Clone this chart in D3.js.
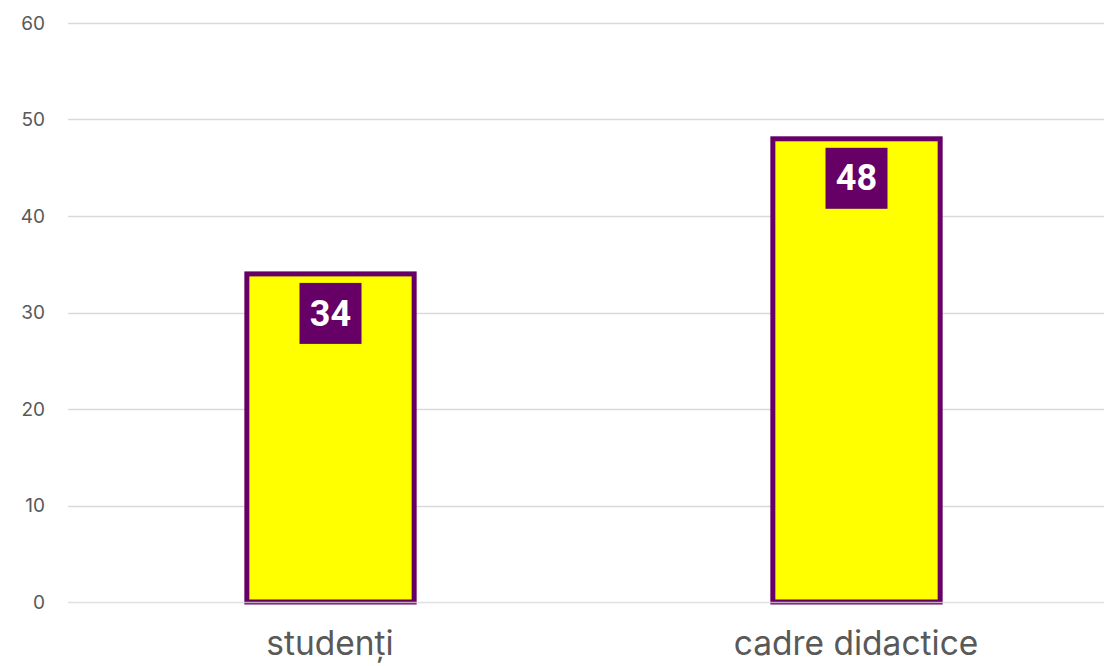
<!DOCTYPE html>
<html>
<head>
<meta charset="utf-8">
<script src="https://cdn.jsdelivr.net/npm/d3@7"></script>
<style>
  html, body { margin: 0; padding: 0; background: #fff; }
  svg { display: block; }
  .tick-label { font-family: Inter, "Open Sans", sans-serif; font-size: 19px; fill: #595959; }
  .cat-label { font-family: Inter, "Open Sans", sans-serif; font-size: 33.5px; fill: #595959; }
  .val-label { font-family: Roboto, Inter, sans-serif; font-size: 36px; font-weight: bold; fill: #fff; }
</style>
</head>
<body>
<div id="chart"></div>
<script>
// ---- Data ----
const categories = ["studenți", "cadre didactice"];
const values = [34, 48];
const yTicks = [0, 10, 20, 30, 40, 50, 60];

const W = 1104, H = 666;
const PURPLE = "#660066";

const svg = d3.select("#chart").append("svg")
  .attr("width", W).attr("height", H);

// ---- Scales ----
const y = d3.scaleLinear().domain([0, 60]).range([602, 23]);
const x = d3.scaleBand()
  .domain(categories)
  .range([67, 1119])
  .paddingInner(0.68)
  .paddingOuter(0.34);

// ---- Gridlines ----
svg.append("g")
  .selectAll("line")
  .data(yTicks.filter(t => t !== 0))
  .join("line")
  .attr("x1", 68).attr("x2", W)
  .attr("y1", d => Math.round(y(d)) + 0.5).attr("y2", d => Math.round(y(d)) + 0.5)
  .attr("stroke", "#d9d9d9").attr("stroke-width", 1.3);

svg.append("g")
  .selectAll("text")
  .data(yTicks)
  .join("text")
  .attr("class", "tick-label")
  .attr("x", 45).attr("y", d => y(d))
  .attr("dy", "0.35em")
  .attr("text-anchor", "end")
  .text(d => d);

// ---- Bars ----
const bw = x.bandwidth();
svg.append("g")
  .selectAll("rect")
  .data(values)
  .join("rect")
  .attr("x", (d, i) => x(categories[i]) + 1)
  .attr("y", d => y(d))
  .attr("width", bw - 1)
  .attr("height", d => y(0) - y(d))
  .attr("fill", "#ffff00")
  .attr("stroke", PURPLE)
  .attr("stroke-width", 5);

// baseline drawn over the bar bottoms
svg.append("line")
  .attr("x1", 68).attr("x2", W)
  .attr("y1", y(0) + 0.5).attr("y2", y(0) + 0.5)
  .attr("stroke", "#d9d9d9").attr("stroke-width", 1.3)
  .attr("opacity", 0.8);

// ---- Value labels ----
const lbl = svg.append("g")
  .selectAll("g")
  .data(values)
  .join("g")
  .attr("transform", (d, i) => `translate(${x(categories[i]) + bw / 2 + 0.5},${y(d) + 39})`);

lbl.append("rect")
  .attr("x", -31).attr("y", -30)
  .attr("width", 62).attr("height", 61)
  .attr("fill", PURPLE);

lbl.append("text")
  .attr("class", "val-label")
  .attr("text-anchor", "middle")
  .attr("dy", "0.35em")
  .text(d => d);

// ---- Category labels ----
svg.append("g")
  .selectAll("text")
  .data(categories)
  .join("text")
  .attr("class", "cat-label")
  .attr("x", d => x(d) + bw / 2)
  .attr("y", 655)
  .attr("text-anchor", "middle")
  .text(d => d);
</script>
</body>
</html>
